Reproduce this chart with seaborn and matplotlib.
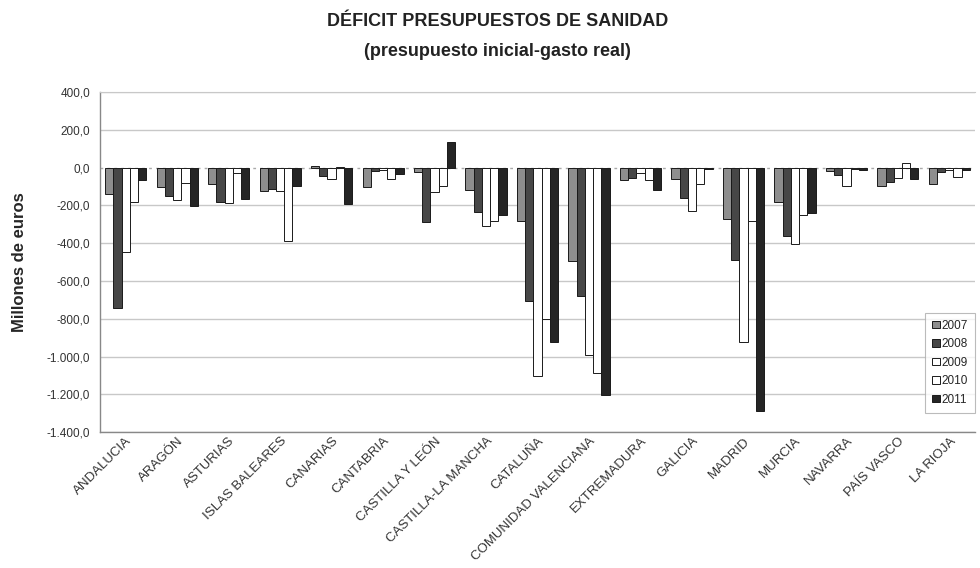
import numpy as np
import pandas as pd
import matplotlib
matplotlib.use('Agg')
import matplotlib.pyplot as plt
from matplotlib.ticker import FuncFormatter, MultipleLocator
import seaborn as sns

regiones = ['ANDALUCIA', 'ARAGÓN', 'ASTURIAS', 'ISLAS BALEARES', 'CANARIAS',
            'CANTABRIA', 'CASTILLA Y LEÓN', 'CASTILLA-LA MANCHA', 'CATALUÑA',
            'COMUNIDAD VALENCIANA', 'EXTREMADURA', 'GALICIA', 'MADRID',
            'MURCIA', 'NAVARRA', 'PAÍS VASCO', 'LA RIOJA']
anios = ['2007', '2008', '2009', '2010', '2011']

# millones de euros
v2007 = [-138, -100, -85, -125, 8, -103, -23, -120, -283, -496, -65, -62, -274, -182, -18, -97, -88]
v2008 = [-742, -150, -182, -115, -45, -18, -287, -235, -708, -681, -57, -163, -490, -363, -41, -76, -25]
v2009 = [-448, -172, -189, -124, -60, -13, -130, -310, -1103, -991, -30, -227, -924, -404, -97, -57, -10]
v2010 = [-180, -83, -30, -390, 3, -58, -95, -283, -802, -1089, -65, -88, -280, -253, -5, 27, -52]
v2011 = [-63, -204, -168, -97, -190, -35, 133, -250, -920, -1204, -120, -9, -1289, -242, -14, -58, -15]

colores = ['#8e8e8e', '#474747', '#ffffff', '#ffffff', '#252525']

series = [v2007, v2008, v2009, v2010, v2011]
df = pd.DataFrame({
    'region': regiones * len(anios),
    'anio': [a for a in anios for _ in regiones],
    'valor': [v for s in series for v in s],
})

sns.set_style('white')
plt.rcParams['font.family'] = ['Liberation Sans', 'DejaVu Sans']

fig = plt.figure(figsize=(9.8, 5.68), dpi=100)
ax = fig.add_axes([0.102, 0.239, 0.893, 0.599])

sns.barplot(data=df, x='region', y='valor', hue='anio', hue_order=anios,
            order=regiones, palette=colores, width=0.8, edgecolor='#1a1a1a',
            linewidth=0.7, ax=ax, legend=True)

ax.set_ylim(-1400, 400)
ax.set_xlim(-0.5, len(regiones) - 0.5)
ax.yaxis.set_major_locator(MultipleLocator(200))


def fmt_es(x, pos):
    s = '{:,.1f}'.format(x)
    return s.replace(',', 'X').replace('.', ',').replace('X', '.')


ax.yaxis.set_major_formatter(FuncFormatter(fmt_es))
ax.set_axisbelow(True)
ax.yaxis.grid(True, color='#c8c8c8', linewidth=1.0)
for tk, gl in zip(ax.get_yticks(), ax.get_ygridlines()):
    if tk == 0:
        gl.set_color('#aaaaaa')
        gl.set_linestyle((0, (2, 3)))

ax.tick_params(axis='y', length=4, color='#888888', labelsize=8.5, labelcolor='#333333', pad=3)
ax.tick_params(axis='x', length=0, labelsize=9.5, labelcolor='#333333', pad=2)
plt.setp(ax.get_xticklabels(), rotation=45, ha='right', rotation_mode='anchor')

for side in ['left', 'bottom']:
    ax.spines[side].set_color('#888888')
    ax.spines[side].set_linewidth(1.0)
ax.spines['top'].set_color('#c8c8c8')
ax.spines['right'].set_visible(False)

ax.set_xlabel('')
ax.set_ylabel('Millones de euros', fontsize=12, fontweight='bold', labelpad=14)

leg = ax.legend(loc='lower right', bbox_to_anchor=(1.003, 0.05), fontsize=8.5,
                frameon=True, fancybox=False, edgecolor='#aaaaaa',
                handlelength=0.6, handleheight=0.6, handletextpad=0.2,
                labelspacing=0.55, borderpad=0.6, borderaxespad=0.2)
leg.get_frame().set_linewidth(0.8)

titulo_fuente = ['Liberation Sans Narrow', 'Liberation Sans', 'DejaVu Sans']
fig.text(0.508, 0.962, 'DÉFICIT PRESUPUESTOS DE SANIDAD', ha='center', va='center',
         fontsize=13, fontweight='bold', color='#222222', family=titulo_fuente)
fig.text(0.508, 0.91, '(presupuesto inicial-gasto real)', ha='center', va='center',
         fontsize=13, fontweight='bold', color='#222222', family=titulo_fuente)

fig.savefig('out.png', dpi=100)
